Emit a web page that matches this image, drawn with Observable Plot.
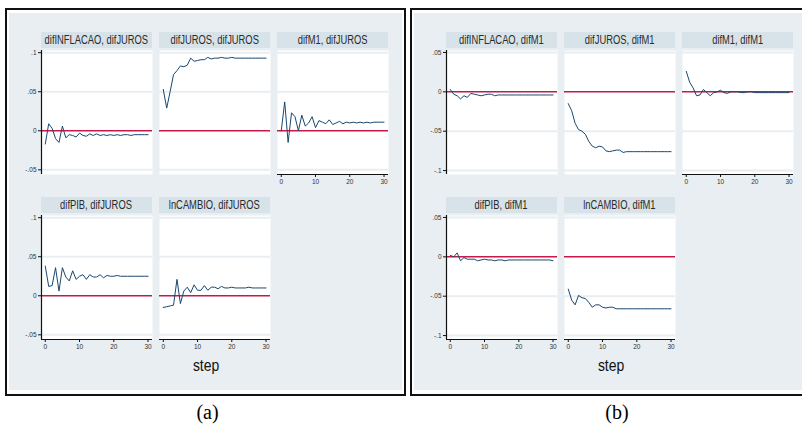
<!DOCTYPE html>
<html>
<head>
<meta charset="utf-8">
<script src="https://cdn.jsdelivr.net/npm/d3@7"></script>
<script src="https://cdn.jsdelivr.net/npm/@observablehq/plot@0.6"></script>
<style>
  html, body { margin: 0; padding: 0; background: #ffffff; }
  #page { position: relative; width: 802px; height: 427px; overflow: hidden; background: #ffffff; }
  .frame { position: absolute; box-sizing: border-box; border: 2px solid #111; background: #ffffff; }
  .bg { position: absolute; background: #e8eef1; }
  .strip { position: absolute; height: 16px; background: #d8e3e9; overflow: visible;
           display: flex; justify-content: center; align-items: center;
           font-family: "Liberation Sans", Arial, sans-serif; font-size: 12px; color: #2a2a2a;
           line-height: 16px; white-space: nowrap; }
  .strip span { display: inline-block; flex: none; transform: scaleX(0.78); transform-origin: center; }
  .panel { position: absolute; }
  .panel svg { overflow: visible; display: block; }
  .xlab { position: absolute; width: 120px; text-align: center; font-family: "Liberation Sans", Arial, sans-serif;
          font-size: 17px; line-height: 17px; color: #111; }
  .xlab span { display: inline-block; transform: scaleX(0.82); }
  .cap { position: absolute; width: 60px; text-align: center; font-family: "Liberation Serif", "Times New Roman", serif;
         font-size: 20px; line-height: 20px; color: #000; }
</style>
</head>
<body>
<div id="page"></div>
<script>
// ---------------- data ----------------
const steps = [0,1,2,3,4,5,6,7,8,9,10,11,12,13,14,15,16,17,18,19,20,21,22,23,24,25,26,27,28,29,30];
const xTicks = [0, 10, 20, 30];

// (a) responses to difJUROS
const titlesA = ["difINFLACAO, difJUROS", "difJUROS, difJUROS", "difM1, difJUROS", "difPIB, difJUROS", "lnCAMBIO, difJUROS"];
const a_inflacao = [-0.017, 0.009, 0.003, -0.010, -0.015, 0.006, -0.009, -0.005, -0.006, -0.008, -0.003, -0.006, -0.007, -0.004, -0.006, -0.004, -0.006, -0.005, -0.006, -0.005, -0.006, -0.005, -0.006, -0.005, -0.005, -0.006, -0.005, -0.005, -0.005, -0.005, -0.005];
const a_juros = [0.053, 0.029, 0.050, 0.072, 0.077, 0.083, 0.082, 0.084, 0.093, 0.089, 0.090, 0.091, 0.091, 0.094, 0.092, 0.093, 0.093, 0.094, 0.093, 0.093, 0.094, 0.093, 0.093, 0.093, 0.093, 0.093, 0.093, 0.093, 0.093, 0.093, 0.093];
const a_m1 = [0.000, 0.037, -0.015, 0.023, 0.018, 0.000, 0.020, 0.006, 0.010, 0.018, 0.004, 0.013, 0.011, 0.009, 0.014, 0.008, 0.010, 0.012, 0.009, 0.011, 0.010, 0.011, 0.010, 0.011, 0.010, 0.011, 0.010, 0.011, 0.011, 0.011, 0.011];
const a_pib = [0.038, 0.012, 0.013, 0.036, 0.006, 0.036, 0.024, 0.019, 0.032, 0.021, 0.025, 0.027, 0.021, 0.027, 0.024, 0.024, 0.027, 0.023, 0.026, 0.025, 0.025, 0.026, 0.025, 0.025, 0.025, 0.025, 0.025, 0.025, 0.025, 0.025, 0.025];
const a_cambio = [-0.015, -0.014, -0.013, -0.012, 0.021, -0.010, 0.006, 0.011, 0.004, 0.014, 0.007, 0.007, 0.013, 0.007, 0.011, 0.011, 0.009, 0.012, 0.010, 0.010, 0.011, 0.010, 0.010, 0.010, 0.010, 0.011, 0.010, 0.010, 0.010, 0.010, 0.010];
const yTicksA = [-0.05, 0, 0.05, 0.1];
const yDomainA = [-0.056, 0.1028];

// (b) responses to difM1
const titlesB = ["difINFLACAO, difM1", "difJUROS, difM1", "difM1, difM1", "difPIB, difM1", "lnCAMBIO, difM1"];
const b_inflacao = [0.003, -0.003, -0.005, -0.009, -0.005, -0.007, -0.002, -0.003, -0.004, -0.005, -0.004, -0.003, -0.003, -0.005, -0.004, -0.004, -0.004, -0.004, -0.004, -0.004, -0.004, -0.004, -0.004, -0.004, -0.004, -0.004, -0.004, -0.004, -0.004, -0.004, -0.004];
const b_juros = [-0.015, -0.024, -0.040, -0.048, -0.050, -0.054, -0.063, -0.069, -0.071, -0.069, -0.070, -0.075, -0.076, -0.075, -0.074, -0.074, -0.077, -0.076, -0.076, -0.076, -0.076, -0.076, -0.076, -0.076, -0.076, -0.076, -0.076, -0.076, -0.076, -0.076, -0.076];
const b_m1 = [0.026, 0.012, 0.005, -0.005, -0.004, 0.003, -0.001, -0.005, -0.001, 0.000, 0.002, -0.001, -0.002, 0.000, 0.000, 0.000, -0.001, -0.001, 0.000, 0.000, -0.001, -0.001, -0.001, -0.001, -0.001, -0.001, -0.001, -0.001, -0.001, -0.001, -0.001];
const b_pib = [0.002, 0.000, 0.005, -0.005, -0.001, -0.003, -0.003, -0.003, -0.005, -0.004, -0.003, -0.004, -0.004, -0.005, -0.004, -0.004, -0.005, -0.004, -0.004, -0.004, -0.004, -0.004, -0.004, -0.004, -0.004, -0.004, -0.004, -0.004, -0.004, -0.004, -0.005];
const b_cambio = [-0.041, -0.055, -0.061, -0.049, -0.052, -0.053, -0.058, -0.064, -0.061, -0.061, -0.064, -0.065, -0.064, -0.064, -0.066, -0.066, -0.066, -0.066, -0.066, -0.066, -0.066, -0.066, -0.066, -0.066, -0.066, -0.066, -0.066, -0.066, -0.066, -0.066, -0.066];
const yTicksB = [-0.1, -0.05, 0, 0.05];
const yDomainB = [-0.105, 0.0525];

const xDomain = [-1.1, 31.3];
const captions = ["(a)", "(b)"];
const xLabel = "step";

// ---------------- style / layout ----------------
const NAVY = "#1a476f", RED = "#c8184a", GRID = "#e8eef1";
const PW = 111, PH = 124;           // plot area
const ML = 34, MR = 4, MT = 2, MB = 22;
const colLeft = [41, 159, 277];
const rowTop = [50, 215];           // plot area tops
const stripGap = 18;                // strip top = plot top - stripGap
const figOffset = [0, 405];

const stataFmt = d => d === 0 ? "0" : String(d).replace("0.", ".");

function panel(values, yDomain, yTicks, showY, showX) {
  const rows = steps.map((s, i) => ({step: s, value: values[i]}));
  return Plot.plot({
    width: PW + ML + MR, height: PH + MT + MB,
    marginLeft: ML, marginRight: MR, marginTop: MT, marginBottom: MB,
    style: {background: "transparent", fontFamily: "'Liberation Sans Narrow', 'Liberation Sans', Arial, sans-serif", fontSize: "6.5px", color: "#333"},
    x: {domain: xDomain, axis: null, label: null},
    y: {domain: yDomain, axis: null, label: null},
    marks: [
      Plot.frame({fill: "white", stroke: null}),
      Plot.ruleY(yTicks.filter(t => t !== 0), {stroke: GRID, strokeWidth: 2}),
      Plot.ruleY([0], {stroke: RED, strokeWidth: 1.5}),
      Plot.line(rows, {x: "step", y: "value", stroke: NAVY, strokeWidth: 1}),
      showY ? Plot.axisY({ticks: yTicks, label: null, tickSize: 3, tickPadding: 2, tickFormat: stataFmt, stroke: "#111", fill: "#333"}) : null,
      showY ? Plot.ruleX([xDomain[0]], {stroke: "#111", strokeWidth: 1.2}) : null,
      showX ? Plot.axisX({ticks: xTicks, label: null, tickSize: 3, tickPadding: 2, tickFormat: d => String(d), stroke: "#111", fill: "#333"}) : null,
      showX ? Plot.ruleY([yDomain[0]], {stroke: "#111", strokeWidth: 1.2}) : null
    ]
  });
}

const page = document.getElementById("page");
function addDiv(cls, left, top, w, h, html) {
  const d = document.createElement("div");
  d.className = cls;
  d.style.left = left + "px"; d.style.top = top + "px";
  if (w != null) d.style.width = w + "px";
  if (h != null) d.style.height = h + "px";
  if (html != null) d.innerHTML = html;
  page.appendChild(d);
  return d;
}

const figs = [
  {titles: titlesA, series: [a_inflacao, a_juros, a_m1, a_pib, a_cambio], yDomain: yDomainA, yTicks: yTicksA},
  {titles: titlesB, series: [b_inflacao, b_juros, b_m1, b_pib, b_cambio], yDomain: yDomainB, yTicks: yTicksB}
];

figs.forEach((fig, f) => {
  const ox = figOffset[f];
  addDiv("frame", 5 + ox, 8, 401, 388);
  addDiv("bg", 9 + ox, 13, 393, 377);
  fig.series.forEach((vals, k) => {
    const r = Math.floor(k / 3), c = k % 3;
    const left = colLeft[c] + ox, top = rowTop[r];
    const strip = addDiv("strip", left, top - stripGap, PW, null);
    const sp = document.createElement("span"); sp.textContent = fig.titles[k]; strip.appendChild(sp);
    const showY = c === 0;
    const showX = r === 1 || c === 2;
    const holder = addDiv("panel", left - ML, top - MT, null, null);
    holder.appendChild(panel(vals, fig.yDomain, fig.yTicks, showY, showX));
  });
  const xl = addDiv("xlab", 206 + ox - 60, 357, null, null);
  const xs = document.createElement("span"); xs.textContent = xLabel; xl.appendChild(xs);
  const cx = f === 0 ? 207.5 : 617;
  const cap = addDiv("cap", cx - 30, 402, null, null);
  cap.textContent = captions[f];
});
</script>
</body>
</html>
